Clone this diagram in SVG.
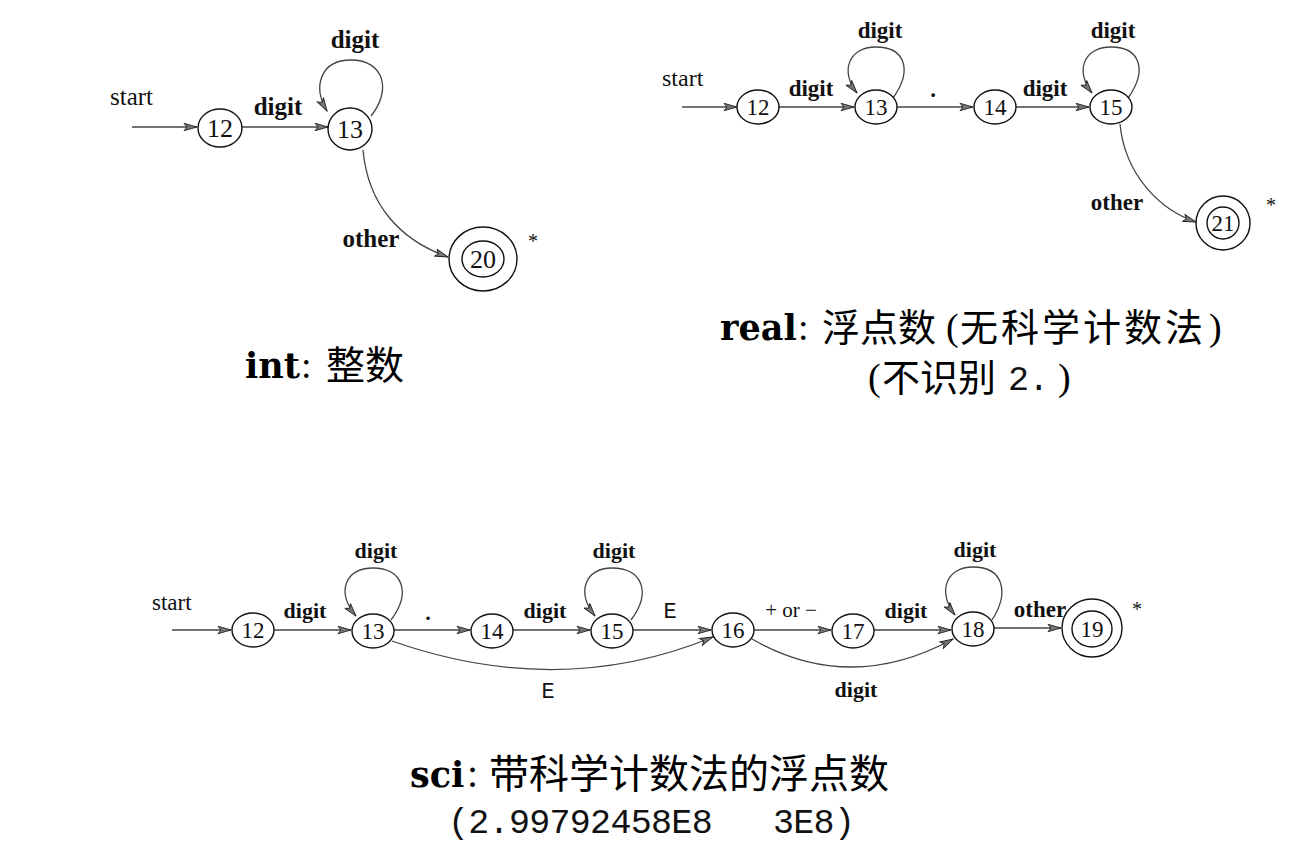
<svg xmlns="http://www.w3.org/2000/svg" width="1297" height="849" viewBox="0 0 1297 849">
<defs>
<marker id="arr" markerUnits="userSpaceOnUse" markerWidth="16" markerHeight="10" refX="14" refY="5" orient="auto">
<path d="M1,1.3 L14,5 L1,8.7 L4,5 Z" fill="#777" stroke="#222" stroke-width="0.9"/>
</marker>
</defs>
<style>
.n{fill:none;stroke:#111;stroke-width:1.4}
.e{fill:none;stroke:#444;stroke-width:1.3;marker-end:url(#arr)}
.nl{font-family:"Liberation Serif",serif;fill:#111;text-anchor:middle}
.lb{font-family:"Liberation Serif",serif;font-weight:bold;fill:#111;text-anchor:middle}
.st{font-family:"Liberation Serif",serif;fill:#111}
.tt{font-family:"Liberation Mono",monospace;fill:#111}
.cb{font-family:"DejaVu Serif",serif;font-weight:bold;fill:#000}
.cr{font-family:"Liberation Serif",serif;fill:#000}
.cj{font-family:"Noto Sans CJK SC",sans-serif;fill:#000}
</style>
<rect width="1297" height="849" fill="#fff"/>

<!-- ===== int diagram ===== -->
<g id="int-connectors">
<path class="e" d="M132,127 H197"/>
<path class="e" d="M242,127 H328"/>
<path class="e" d="M371,116 C392,90 384,60 351,60 C321,60 312,86 327,111"/>
<path class="e" d="M363,150 C368,205 400,240 448,257"/>
</g>
<g id="int-labels">
<text class="st" x="110" y="105" font-size="25">start</text>
<text class="lb" x="278" y="115" font-size="25">digit</text>
<text class="lb" x="355" y="48" font-size="25">digit</text>
<text class="lb" x="371" y="247" font-size="25">other</text>
<text class="st" x="528" y="248" font-size="20">*</text>
</g>
<g id="int-n12"><ellipse class="n" cx="220" cy="128" rx="22" ry="19"/><text class="nl" x="220" y="137" font-size="26">12</text></g>
<g id="int-n13"><ellipse class="n" cx="350" cy="129" rx="22" ry="21"/><text class="nl" x="350" y="138" font-size="26">13</text></g>
<g id="int-n20"><ellipse class="n" cx="483" cy="259" rx="34" ry="32"/><ellipse class="n" cx="483" cy="259" rx="21" ry="18"/><text class="nl" x="483" y="268" font-size="26">20</text></g>

<!-- ===== real diagram ===== -->
<g id="real-connectors">
<path class="e" d="M682,107 H737"/>
<path class="e" d="M779,107 H854"/>
<path class="e" d="M897,107 H973"/>
<path class="e" d="M1016,107 H1089"/>
<path class="e" d="M893,98 C913,70 905,47 876,47 C848,47 840,72 857,93"/>
<path class="e" d="M1128,98 C1148,70 1140,47 1111,47 C1083,47 1075,72 1092,93"/>
<path class="e" d="M1120,124 C1125,175 1160,210 1196,222"/>
</g>
<g id="real-labels">
<text class="st" x="662" y="86" font-size="24">start</text>
<text class="lb" x="811" y="96" font-size="23">digit</text>
<text class="lb" x="933" y="97" font-size="23">.</text>
<text class="lb" x="1045" y="96" font-size="23">digit</text>
<text class="lb" x="880" y="38" font-size="23">digit</text>
<text class="lb" x="1113" y="38" font-size="23">digit</text>
<text class="lb" x="1117" y="210" font-size="23">other</text>
<text class="st" x="1266" y="212" font-size="20">*</text>
</g>
<g id="real-n12"><ellipse class="n" cx="758" cy="107" rx="21" ry="17"/><text class="nl" x="758" y="115" font-size="23">12</text></g>
<g id="real-n13"><ellipse class="n" cx="876" cy="107" rx="21" ry="17"/><text class="nl" x="876" y="115" font-size="23">13</text></g>
<g id="real-n14"><ellipse class="n" cx="995" cy="107" rx="21" ry="17"/><text class="nl" x="995" y="115" font-size="23">14</text></g>
<g id="real-n15"><ellipse class="n" cx="1111" cy="107" rx="21" ry="17"/><text class="nl" x="1111" y="115" font-size="23">15</text></g>
<g id="real-n21"><ellipse class="n" cx="1223" cy="223" rx="27" ry="27"/><ellipse class="n" cx="1223" cy="223" rx="16" ry="16"/><text class="nl" x="1223" y="231" font-size="23">21</text></g>

<!-- ===== sci diagram ===== -->
<g id="sci-connectors">
<path class="e" d="M172,630 H231"/>
<path class="e" d="M274,630 H351"/>
<path class="e" d="M391,620 C412,592 402,568 373,568 C345,568 336,592 356,616"/>
<path class="e" d="M394,630 H470"/>
<path class="e" d="M513,630 H590"/>
<path class="e" d="M631,620 C652,592 642,568 612,568 C585,568 576,592 595,616"/>
<path class="e" d="M633,630 H711"/>
<path class="e" d="M392,641 Q560,700 713,637"/>
<path class="e" d="M754,630 H831"/>
<path class="e" d="M874,630 H951"/>
<path class="e" d="M992,620 C1010,592 1003,567 973,567 C946,567 937,592 955,615"/>
<path class="e" d="M752,639 Q850,695 953,639"/>
<path class="e" d="M994,628 H1061"/>
</g>
<g id="sci-labels">
<text class="st" x="152" y="610" font-size="23">start</text>
<text class="lb" x="305" y="618" font-size="22">digit</text>
<text class="lb" x="376" y="558" font-size="22">digit</text>
<text class="lb" x="428" y="620" font-size="22">.</text>
<text class="lb" x="545" y="618" font-size="22">digit</text>
<text class="lb" x="614" y="558" font-size="22">digit</text>
<text class="tt" x="670" y="618" font-size="22" text-anchor="middle">E</text>
<text class="st" x="791" y="617" font-size="21" text-anchor="middle">+ or −</text>
<text class="lb" x="906" y="618" font-size="22">digit</text>
<text class="lb" x="975" y="557" font-size="22">digit</text>
<text class="lb" x="1040" y="617" font-size="23">other</text>
<text class="st" x="1132" y="616" font-size="20">*</text>
<text class="tt" x="548" y="698" font-size="22" text-anchor="middle">E</text>
<text class="lb" x="856" y="697" font-size="22">digit</text>
</g>
<g id="sci-n12"><ellipse class="n" cx="253" cy="630" rx="21" ry="17"/><text class="nl" x="253" y="638" font-size="23">12</text></g>
<g id="sci-n13"><ellipse class="n" cx="373" cy="631" rx="21" ry="17"/><text class="nl" x="373" y="639" font-size="23">13</text></g>
<g id="sci-n14"><ellipse class="n" cx="492" cy="631" rx="21" ry="17"/><text class="nl" x="492" y="639" font-size="23">14</text></g>
<g id="sci-n15"><ellipse class="n" cx="612" cy="631" rx="21" ry="17"/><text class="nl" x="612" y="639" font-size="23">15</text></g>
<g id="sci-n16"><ellipse class="n" cx="733" cy="630" rx="21" ry="17"/><text class="nl" x="733" y="638" font-size="23">16</text></g>
<g id="sci-n17"><ellipse class="n" cx="853" cy="631" rx="21" ry="17"/><text class="nl" x="853" y="639" font-size="23">17</text></g>
<g id="sci-n18"><ellipse class="n" cx="973" cy="629" rx="21" ry="17"/><text class="nl" x="973" y="637" font-size="23">18</text></g>
<g id="sci-n19"><ellipse class="n" cx="1092" cy="628" rx="30" ry="29"/><ellipse class="n" cx="1092" cy="629" rx="20" ry="18"/><text class="nl" x="1092" y="637" font-size="23">19</text></g>

<!-- ===== captions ===== -->
<g id="caption-int">
<text class="cb" x="245" y="378" font-size="35">int</text>
<text class="cr" x="301" y="378" font-size="38">:</text>
<text class="cj" x="326" y="379" font-size="39">整数</text>
</g>
<g id="caption-real">
<text class="cb" x="720" y="340" font-size="35">real</text>
<text class="cr" x="798" y="340" font-size="38">:</text>
<text class="cj" x="822" y="341" font-size="38">浮点数</text>
<text class="cr" x="946" y="340" font-size="38">(</text>
<text class="cj" x="960" y="341" font-size="38" letter-spacing="3">无科学计数法</text>
<text class="cr" x="1209" y="340" font-size="38">)</text>
<text class="cr" x="868" y="390" font-size="38">(</text>
<text class="cj" x="882" y="391" font-size="38">不识别</text>
<text class="tt" x="1008" y="390" font-size="35" letter-spacing="-0.7">2.</text>
<text class="cr" x="1058" y="390" font-size="38">)</text>
</g>
<g id="caption-sci">
<text class="cb" x="410" y="787" font-size="35">sci</text>
<text class="cr" x="467" y="787" font-size="40">:</text>
<text class="cj" x="489" y="788" font-size="40">带科学计数法的浮点数</text>
<text class="tt" x="448" y="833" font-size="35" letter-spacing="-0.7">(2.99792458E8</text>
<text class="tt" x="773" y="833" font-size="35" letter-spacing="-0.7">3E8)</text>
</g>
</svg>
